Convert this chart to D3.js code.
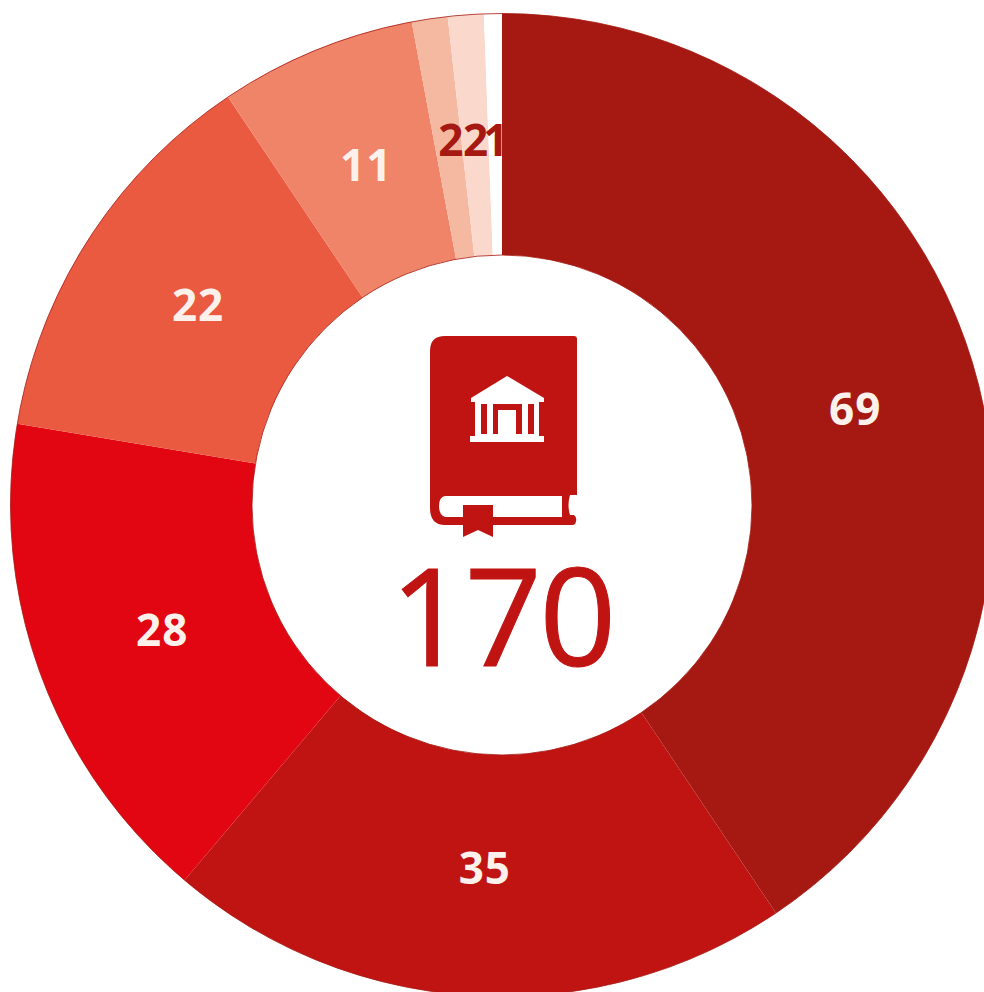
<!DOCTYPE html>
<html>
<head>
<meta charset="utf-8">
<script src="https://cdn.jsdelivr.net/npm/d3@7"></script>
<style>
body { margin: 0; background: #fff; overflow: hidden; }
text { font-family: "Open Sans", sans-serif; }
</style>
</head>
<body>
<div id="chart"></div>
<script>
var values = [69, 35, 28, 22, 11, 2, 2, 1];
var colors = ["#a51912", "#c01413", "#e20613", "#e95a41", "#f08468", "#f5b8a0", "#fad8cb", "#ffffff"];
var labelColors = ["#fdf1ec", "#fdf1ec", "#fdf1ec", "#fdf1ec", "#fdf1ec", "#a51912", "#a51912", "#a51912"];
var total = 170;

var width = 984;
var height = 992;
var cx = 502;
var cy = 505;
var outerR = 491.5;
var innerR = 250;
var labelR = 364;
var red = "#c01413";
// small nudges so the labels sit where the original has them
var labelShift = [[5, 10], [3, 0], [2, 0], [2, -3], [2, -3], [3, -5], [1, -2], [1, -1]];

var svg = d3.select("#chart")
	.append("svg")
	.attr("width", width)
	.attr("height", height);

var chart = svg.append("g")
	.attr("transform", `translate(${cx}, ${cy})`);

var pie = d3.pie().sort(null);
var arc = d3.arc().innerRadius(innerR).outerRadius(outerR);
var labelArc = d3.arc().innerRadius(labelR).outerRadius(labelR);
var slices = pie(values);

chart.selectAll("path.slice")
	.data(slices)
	.enter()
	.append("path")
	.attr("class", "slice")
	.attr("d", arc)
	.attr("fill", (d, i) => colors[i]);

// thin rim round the ring, shows on the pale slices
[outerR, innerR].forEach(function (r) {
	chart.append("circle")
		.attr("r", r)
		.attr("fill", "none")
		.attr("stroke", "#a51912")
		.attr("stroke-width", 0.8);
});

chart.selectAll("text.value")
	.data(slices)
	.enter()
	.append("text")
	.attr("class", "value")
	.attr("transform", function (d, i) {
		var c = labelArc.centroid(d);
		return `translate(${c[0] + labelShift[i][0]}, ${c[1] + labelShift[i][1]})`;
	})
	.attr("dy", "0.36em")
	.attr("text-anchor", "middle")
	.attr("font-size", 44)
	.attr("font-weight", 700)
	.attr("letter-spacing", 1)
	.attr("fill", (d, i) => labelColors[i])
	.text(d => d.data);

// book icon
var icon = svg.append("g");
icon.append("path")
	.attr("fill", red)
	.attr("fill-rule", "evenodd")
	.attr("d", "M445,336 H574 Q577,336 577,339 V495 H570 Q567,505 570,515 H574 Q578,518 575,524 Q574,525 572,525 H445 Q430,525 430,508 V351 Q430,336 445,336 Z"
		+ " M445,496 H562 V517 H445 Q439,515 439,506 Q439,497 445,496 Z");
icon.append("path")
	.attr("fill", red)
	.attr("d", "M463,505 H493 V537 L478,530 L463,537 Z");

var temple = icon.append("g").attr("fill", "#fff");
temple.append("path").attr("d", "M507,376 L544,398 V402 H471 V398 Z");
temple.append("rect").attr("x", 475).attr("y", 402).attr("width", 64).attr("height", 35);
temple.append("rect").attr("x", 470).attr("y", 436).attr("width", 74).attr("height", 6);
[[481, 6], [493, 29], [528, 6]].forEach(function (b) {
	icon.append("rect").attr("x", b[0]).attr("y", 404).attr("width", b[1]).attr("height", 30).attr("fill", red);
});
icon.append("rect").attr("x", 498).attr("y", 410).attr("width", 18).attr("height", 27).attr("fill", "#fff");

svg.append("text")
	.attr("x", 502)
	.attr("y", 666)
	.attr("text-anchor", "middle")
	.attr("font-size", 135)
	.attr("letter-spacing", -2.5)
	.attr("stroke", red)
	.attr("stroke-width", 1)
	.attr("fill", red)
	.text(total);
</script>
</body>
</html>
